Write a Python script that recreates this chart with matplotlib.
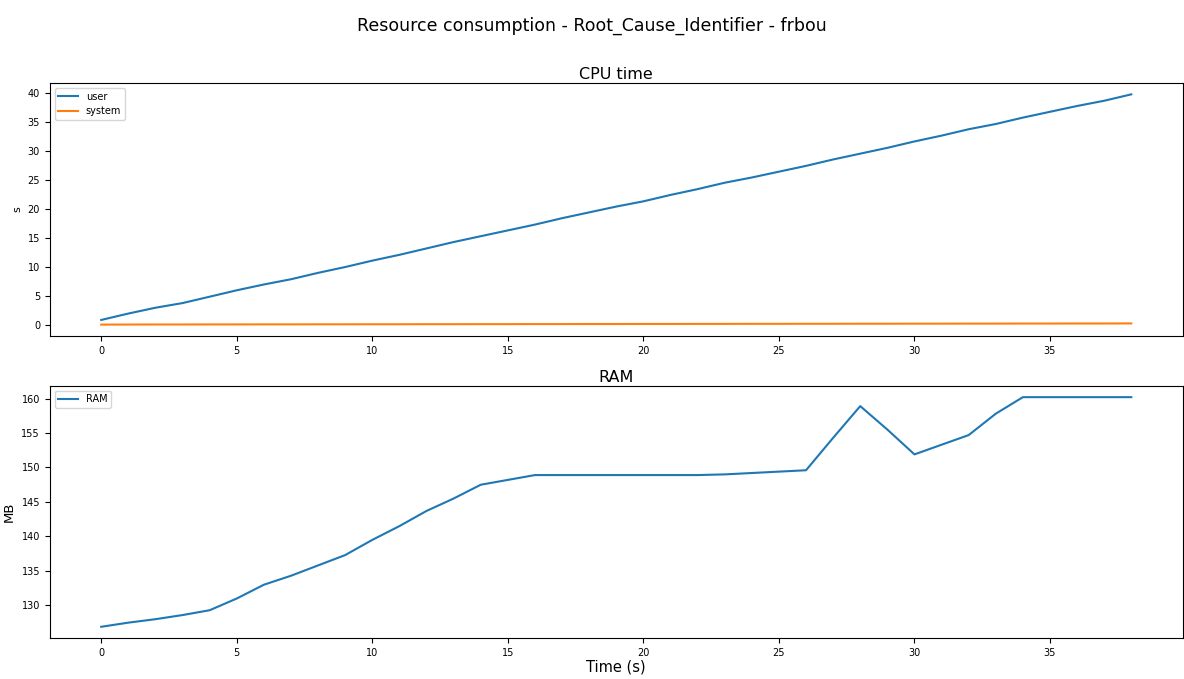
import numpy as np
import matplotlib
matplotlib.use("Agg")
import matplotlib.pyplot as plt

# time in seconds
t = list(range(0, 39))

# CPU time (s)
cpu_user = [0.9, 2.0, 3.0, 3.8, 4.9, 6.0, 7.0, 7.9, 9.0, 10.0,
            11.1, 12.1, 13.2, 14.3, 15.3, 16.3, 17.3, 18.4, 19.4, 20.4,
            21.3, 22.4, 23.4, 24.5, 25.4, 26.4, 27.4, 28.5, 29.5, 30.5,
            31.6, 32.6, 33.7, 34.6, 35.7, 36.7, 37.7, 38.6, 39.7]
cpu_system = [0.10, 0.11, 0.12, 0.12, 0.13, 0.13, 0.14, 0.14, 0.15, 0.15,
              0.16, 0.16, 0.17, 0.17, 0.18, 0.18, 0.19, 0.19, 0.20, 0.20,
              0.21, 0.21, 0.22, 0.22, 0.23, 0.23, 0.24, 0.24, 0.25, 0.25,
              0.26, 0.26, 0.27, 0.27, 0.28, 0.28, 0.29, 0.29, 0.30]

# RAM (MB)
ram = [126.9, 127.5, 128.0, 128.6, 129.3, 131.0, 133.0, 134.3, 135.8, 137.3,
       139.5, 141.5, 143.7, 145.5, 147.5, 148.2, 148.9, 148.9, 148.9, 148.9,
       148.9, 148.9, 148.9, 149.0, 149.2, 149.4, 149.6, 154.3, 158.9, 155.5,
       151.9, 153.3, 154.7, 157.8, 160.2, 160.2, 160.2, 160.2, 160.2]

fig = plt.figure(figsize=(11.84, 6.79), dpi=100)
fig.suptitle("Resource consumption - Root_Cause_Identifier - frbou", fontsize=12.5, y=0.975)

ax1 = fig.add_axes([0.042, 0.505, 0.957, 0.373])
ax2 = fig.add_axes([0.042, 0.060, 0.957, 0.372])

ax1.plot(t, cpu_user, label="user")
ax1.plot(t, cpu_system, label="system")
ax1.set_title("CPU time", fontsize=11.5, pad=3)
ax1.set_ylabel("s", fontsize=8)
ax1.set_yticks(range(0, 41, 5))
ax1.set_xticks(range(0, 36, 5))
ax1.tick_params(labelsize=7)
ax1.legend(loc="upper left", fontsize=7)

ax2.plot(t, ram, label="RAM")
ax2.set_title("RAM", fontsize=11.5, pad=3)
ax2.set_ylabel("MB", fontsize=9.5)
ax2.set_xlabel("Time (s)", fontsize=10.5, labelpad=1)
ax2.set_yticks(range(130, 161, 5))
ax2.set_xticks(range(0, 36, 5))
ax2.tick_params(labelsize=7)
ax2.legend(loc="upper left", fontsize=7)

fig.savefig("out.png", dpi=100)
